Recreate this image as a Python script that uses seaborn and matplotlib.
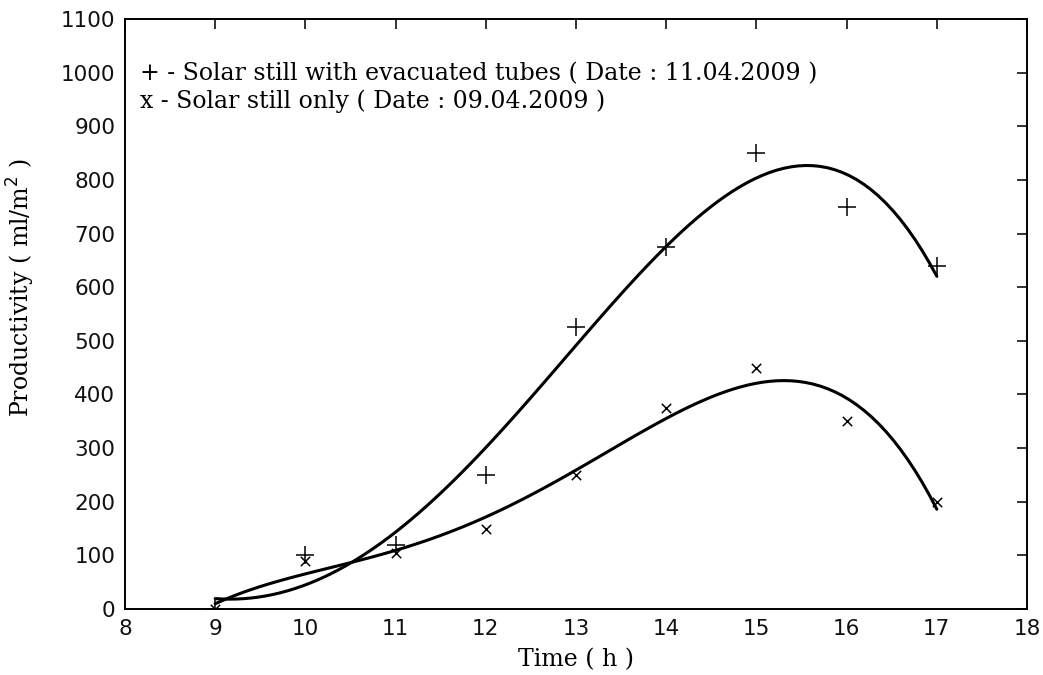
import matplotlib
matplotlib.use("Agg")
import matplotlib.pyplot as plt
import seaborn as sns
import numpy as np
import pandas as pd

hours = [9, 10, 11, 12, 13, 14, 15, 16, 17]
with_tubes = [0, 100, 120, 250, 525, 675, 850, 750, 640]
still_only = [0, 90, 105, 150, 250, 375, 450, 350, 200]

legend_lines = [
    "+ - Solar still with evacuated tubes ( Date : 11.04.2009 )",
    "x - Solar still only ( Date : 09.04.2009 )",
]

sns.set_theme(style="white")
plt.rcParams["font.family"] = ["DejaVu Sans"]

fig = plt.figure(figsize=(10.43, 6.75), dpi=100)
ax = fig.add_axes([0.1198, 0.0978, 0.8649, 0.8741])

df = pd.DataFrame({"t": hours, "a": with_tubes, "b": still_only})

for col, mk, ms in [("a", "+", 180), ("b", "x", 45)]:
    sns.regplot(data=df, x="t", y=col, order=4, ci=None, ax=ax, marker=mk,
                scatter_kws=dict(s=ms, color="black", linewidths=1.1, alpha=1),
                line_kws=dict(color="black", lw=2.2))

ax.set_xlim(8, 18)
ax.set_ylim(0, 1100)
ax.set_xticks(range(8, 19))
ax.set_yticks(range(0, 1101, 100))
ax.tick_params(direction="in", length=7, width=1.2, top=True, right=True,
               labelsize=15.5, colors="#111111", pad=7)
for s in ax.spines.values():
    s.set_color("black")
    s.set_linewidth(1.4)
    s.set_visible(True)

serif = ["DejaVu Serif"]
ax.set_xlabel("Time ( h )", family=serif, fontsize=17, color="black")
ax.set_ylabel("Productivity ( ml/m$^2$ )", family=serif, fontsize=17, color="black")
ax.xaxis.set_label_coords(0.5, -0.066)
ax.yaxis.set_label_coords(-0.097, 0.545)

for i, line in enumerate(legend_lines):
    ax.text(0.017, 0.907 - i * 0.046, line, transform=ax.transAxes,
            family=serif, fontsize=17, color="black", va="center", ha="left")

fig.savefig("out.png", dpi=100)
